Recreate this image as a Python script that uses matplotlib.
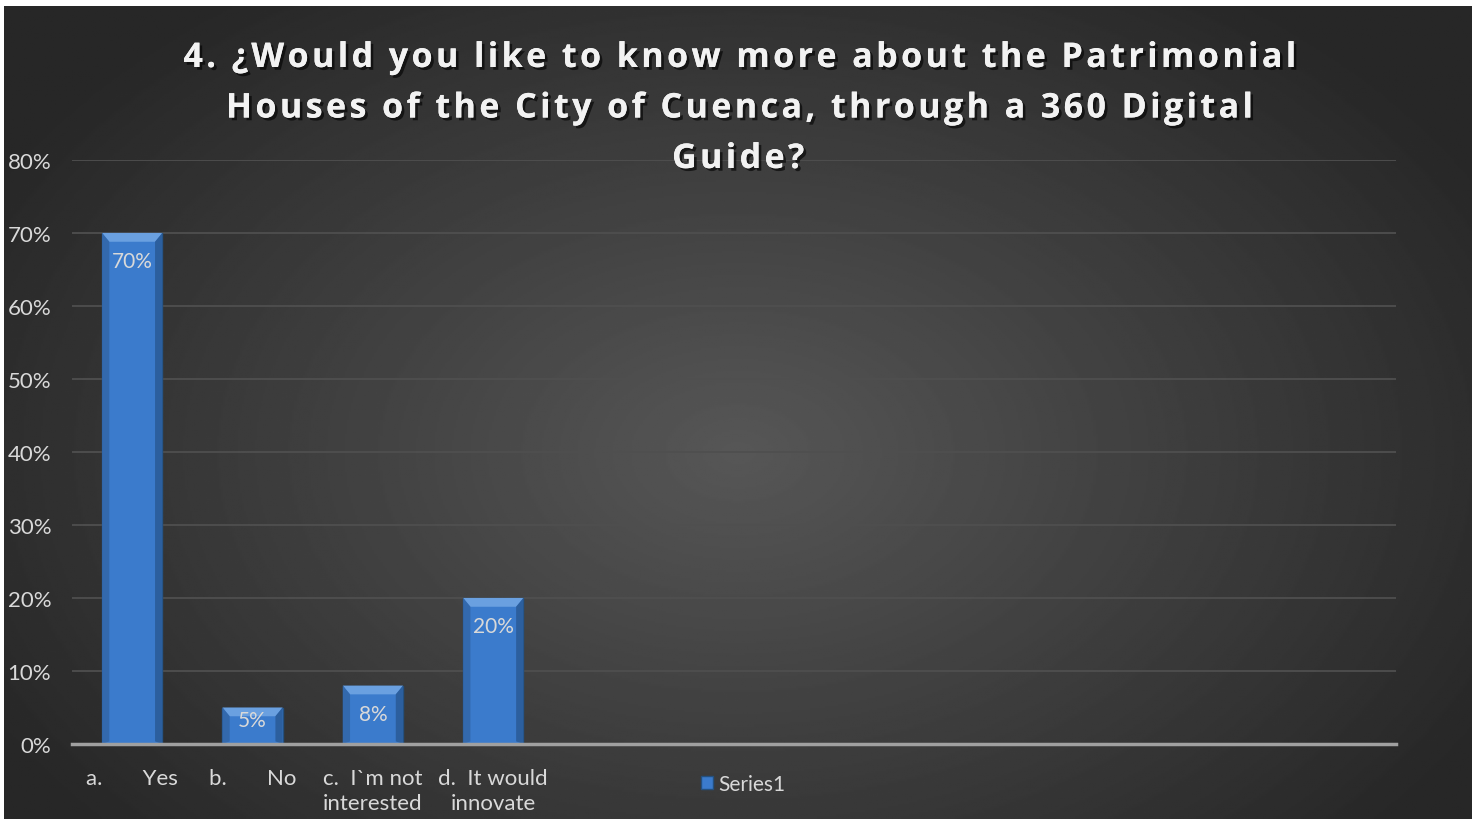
import numpy as np
import matplotlib.pyplot as plt
from matplotlib.patches import Polygon
import matplotlib.patheffects as pe

categories = ['a.       Yes', 'b.       No', 'c.  I`m not\ninterested', 'd.  It would\ninnovate',
              '', '', '', '', '', '', '']
values = [0.70, 0.05, 0.08, 0.20, None, None, None, None, None, None, None]
labels = ['70%', '5%', '8%', '20%']
yticks = [0, 0.1, 0.2, 0.3, 0.4, 0.5, 0.6, 0.7, 0.8]
title_lines = ['4. ¿Would you like to know more about the Patrimonial',
               'Houses of the City of Cuenca, through a 360 Digital',
               'Guide?']

fig = plt.figure(figsize=(14.79, 8.2), dpi=100)
fig.patch.set_facecolor('white')

# radial dark background
bg = fig.add_axes([4/1479, 0, 1468/1479, 1 - 7/820])
yy, xx = np.mgrid[0:1:400j, 0:1:700j]
r = np.sqrt(((xx - 0.5) / 0.75) ** 2 + ((yy - 0.55) / 0.9) ** 2)
shade = np.clip(0.34 - 0.24 * r, 0.155, 0.34)
bg.imshow(shade, cmap='gray', vmin=0, vmax=1, aspect='auto', extent=[0, 1, 0, 1])
bg.axis('off')

ax = fig.add_axes([72/1479, 75/820, (1396-72)/1479, (745-161)/820])
ax.patch.set_alpha(0)
x = np.arange(len(categories))
vals = [v if v is not None else 0 for v in values]
bars = ax.bar(x[:4], vals[:4], width=0.5, color='#3b7bcc', edgecolor='#24507f', linewidth=1.0, zorder=3)

# bevel look on each bar
for b in bars:
    x0, w, h = b.get_x(), b.get_width(), b.get_height()
    d = 0.06
    dy = min(0.012, h * 0.3)
    ax.add_patch(Polygon([[x0, h], [x0 + w, h], [x0 + w - d, h - dy], [x0 + d, h - dy]],
                         closed=True, facecolor='#6aa0e0', edgecolor='none', zorder=4))
    ax.add_patch(Polygon([[x0 + w, h], [x0 + w, 0], [x0 + w - d, dy * 0.3], [x0 + w - d, h - dy]],
                         closed=True, facecolor='#2c5f9e', edgecolor='none', zorder=4))
    ax.add_patch(Polygon([[x0, h], [x0, 0], [x0 + d, dy * 0.3], [x0 + d, h - dy]],
                         closed=True, facecolor='#3369ad', edgecolor='none', zorder=4))

for b, lab in zip(bars, labels):
    h = b.get_height()
    ax.annotate(lab, (b.get_x() + b.get_width() / 2, h), xytext=(0, -28 if h > 0.06 else -13),
                textcoords='offset pixels',
                ha='center', va='center', color='#d9d9d9', fontsize=15, family='Lato', zorder=5)

ax.set_xlim(-0.5, len(categories) - 0.5)
ax.set_ylim(0, 0.8)
ax.set_yticks(yticks)
ax.set_yticklabels([f'{int(round(t*100))}%' for t in yticks])
ax.set_xticks(x)
ax.set_xticklabels(categories)
ax.tick_params(axis='both', length=0, colors='#d9d9d9', labelsize=16)
ax.tick_params(axis='y', pad=15)
ax.tick_params(axis='x', pad=17)
for t in ax.get_xticklabels() + ax.get_yticklabels():
    t.set_family('Lato')
    t.set_linespacing(1.36)
ax.grid(axis='y', color='#4f4f4f', linewidth=1.3, zorder=0)
for s in ['top', 'right', 'left']:
    ax.spines[s].set_visible(False)
ax.spines['bottom'].set_color('#a0a0a0')
ax.spines['bottom'].set_linewidth(2.5)
ax.spines['bottom'].set_zorder(6)

# title with widened letter spacing (hair spaces)
for i, line in enumerate(title_lines):
    spaced = '\u200a'.join(line)
    fig.text(738/1479, 1 - (59 + 50.5 * i)/820, spaced, ha='center', va='center', color='#f2f2f2',
             fontsize=24.5, fontweight='bold', family='Open Sans',
             path_effects=[pe.withSimplePatchShadow(offset=(2, -2), shadow_rgbFace='black', alpha=0.6),
                           pe.Normal()])

leg = fig.legend([bars[0]], ['Series1'], loc='center', bbox_to_anchor=(743/1479, 1 - 785/820),
                 frameon=False, handlelength=0.6, handleheight=0.6, handletextpad=0.25,
                 prop={'family': 'Lato', 'size': 15})
for t in leg.get_texts():
    t.set_color('#d9d9d9')

fig.savefig('out.png', dpi=100, facecolor='white')
